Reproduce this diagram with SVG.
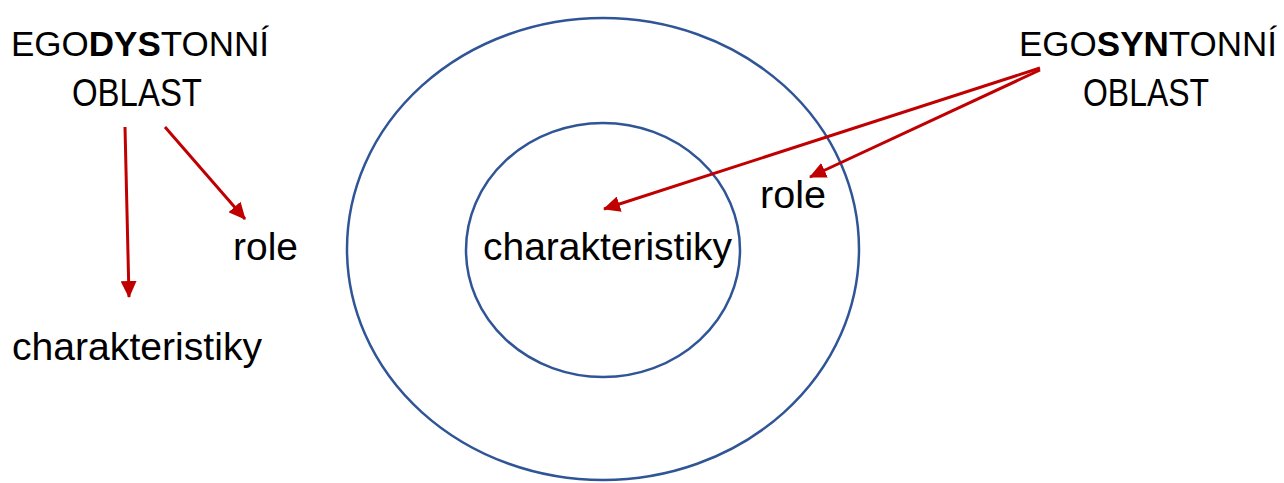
<svg xmlns="http://www.w3.org/2000/svg" width="1284" height="483" viewBox="0 0 1284 483">
<defs>
<style>
.t{font-family:"Liberation Sans",Arial,sans-serif;font-size:38px;fill:#000}
.h{font-size:35px}
.b{font-weight:bold}
.c{fill:none;stroke:#2F5597;stroke-width:2.5}
.a{fill:none;stroke:#C00000;stroke-width:3}
</style>
<marker id="ah" markerUnits="userSpaceOnUse" markerWidth="18" markerHeight="16" viewBox="0 0 18 16" refX="16" refY="8" orient="auto">
<path d="M0,0 L17,8 L0,16 Z" fill="#C00000"/>
</marker>
</defs>
<rect width="1284" height="483" fill="#fff"/>
<g id="outer-circle"><ellipse class="c" cx="603" cy="249" rx="256" ry="231"/></g>
<g id="inner-circle"><ellipse class="c" cx="603" cy="250" rx="137" ry="127"/></g>
<g id="egodystonni"><text class="t h" x="140" y="56" text-anchor="middle">EGO<tspan class="b">DYS</tspan>TONNÍ</text><text class="t" x="137" y="106" text-anchor="middle" textLength="130" lengthAdjust="spacingAndGlyphs">OBLAST</text></g>
<g id="egosyntonni"><text class="t h" x="1148" y="56" text-anchor="middle">EGO<tspan class="b">SYN</tspan>TONNÍ</text><text class="t" x="1146" y="106" text-anchor="middle" textLength="126" lengthAdjust="spacingAndGlyphs">OBLAST</text></g>
<g id="role-left"><text class="t" x="233" y="260" textLength="65" lengthAdjust="spacingAndGlyphs">role</text></g>
<g id="char-left"><text class="t" x="12" y="360" textLength="250" lengthAdjust="spacingAndGlyphs">charakteristiky</text></g>
<g id="char-center"><text class="t" x="483" y="260" textLength="249" lengthAdjust="spacingAndGlyphs">charakteristiky</text></g>
<g id="role-right"><text class="t" x="760" y="208" textLength="66" lengthAdjust="spacingAndGlyphs">role</text></g>
<g id="connectors">
<line class="a" x1="125" y1="127" x2="129" y2="297" marker-end="url(#ah)"/>
<line class="a" x1="165" y1="127" x2="245" y2="219" marker-end="url(#ah)"/>
<line class="a" x1="1040" y1="68" x2="604" y2="209" marker-end="url(#ah)"/>
<line class="a" x1="1040" y1="70" x2="810" y2="177" marker-end="url(#ah)"/>
</g>
</svg>
